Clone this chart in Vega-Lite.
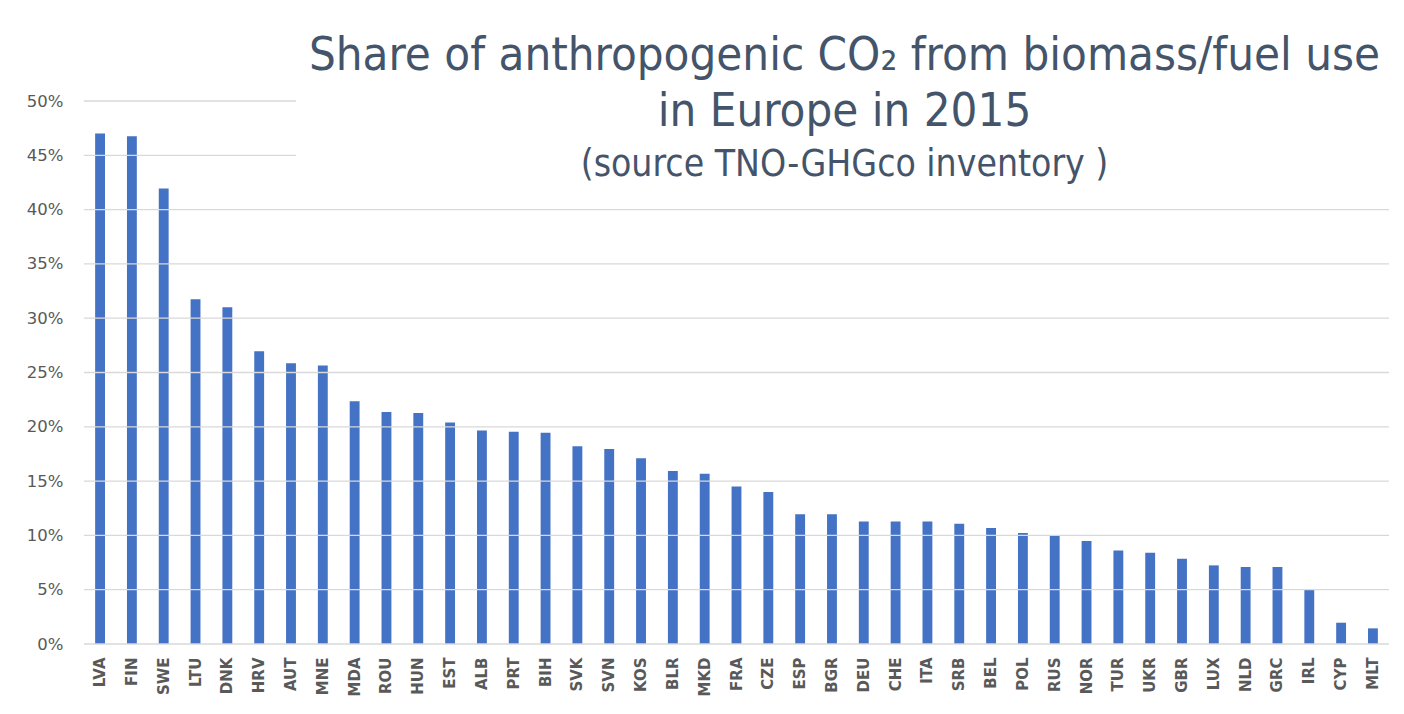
{
  "$schema": "https://vega.github.io/schema/vega-lite/v6.json",
  "width": 1305,
  "height": 543,
  "autosize": {"type": "none"},
  "padding": {"left": 84, "top": 101, "right": 15, "bottom": 70},
  "background": "white",
  "config": {"view": {"stroke": null}},
  "title": {
    "text": ["Share of anthropogenic CO₂ from biomass/fuel use", "in Europe in 2015"],
    "subtitle": "(source TNO-GHGco inventory )",
    "anchor": "middle",
    "dx": 108,
    "offset": -91,
    "font": "DejaVu Sans Condensed",
    "fontSize": 47,
    "fontWeight": "normal",
    "lineHeight": 56,
    "color": "#44546A",
    "subtitleFont": "DejaVu Sans Condensed",
    "subtitleFontSize": 37,
    "subtitleColor": "#44546A",
    "subtitlePadding": 11,
    "subtitleLineHeight": 40
  },
  "datasets": {
    "bars": [
      {"country": "LVA", "share": 0.470},
      {"country": "FIN", "share": 0.4675},
      {"country": "SWE", "share": 0.4195},
      {"country": "LTU", "share": 0.3175},
      {"country": "DNK", "share": 0.310},
      {"country": "HRV", "share": 0.2695},
      {"country": "AUT", "share": 0.2585},
      {"country": "MNE", "share": 0.2565},
      {"country": "MDA", "share": 0.2235},
      {"country": "ROU", "share": 0.2137},
      {"country": "HUN", "share": 0.2127},
      {"country": "EST", "share": 0.204},
      {"country": "ALB", "share": 0.1967},
      {"country": "PRT", "share": 0.1955},
      {"country": "BIH", "share": 0.1945},
      {"country": "SVK", "share": 0.1822},
      {"country": "SVN", "share": 0.1795},
      {"country": "KOS", "share": 0.171},
      {"country": "BLR", "share": 0.1592},
      {"country": "MKD", "share": 0.1567},
      {"country": "FRA", "share": 0.1451},
      {"country": "CZE", "share": 0.1399},
      {"country": "ESP", "share": 0.1194},
      {"country": "BGR", "share": 0.1194},
      {"country": "DEU", "share": 0.1129},
      {"country": "CHE", "share": 0.1129},
      {"country": "ITA", "share": 0.1129},
      {"country": "SRB", "share": 0.1107},
      {"country": "BEL", "share": 0.1068},
      {"country": "POL", "share": 0.1022},
      {"country": "RUS", "share": 0.0994},
      {"country": "NOR", "share": 0.0948},
      {"country": "TUR", "share": 0.0862},
      {"country": "UKR", "share": 0.0840},
      {"country": "GBR", "share": 0.0785},
      {"country": "LUX", "share": 0.0724},
      {"country": "NLD", "share": 0.0709},
      {"country": "GRC", "share": 0.0709},
      {"country": "IRL", "share": 0.0497},
      {"country": "CYP", "share": 0.0196},
      {"country": "MLT", "share": 0.0144}
    ],
    "gridFull": [
      {"v": 0}, {"v": 0.05}, {"v": 0.10}, {"v": 0.15}, {"v": 0.20},
      {"v": 0.25}, {"v": 0.30}, {"v": 0.35}, {"v": 0.40}
    ],
    "gridShort": [{"v": 0.45}, {"v": 0.50}]
  },
  "layer": [
    {
      "data": {"name": "bars"},
      "mark": {"type": "bar", "color": "#4472C4"},
      "encoding": {
        "x": {
          "field": "country",
          "type": "nominal",
          "sort": null,
          "scale": {
            "domain": ["LVA","FIN","SWE","LTU","DNK","HRV","AUT","MNE","MDA","ROU","HUN","EST","ALB","PRT","BIH","SVK","SVN","KOS","BLR","MKD","FRA","CZE","ESP","BGR","DEU","CHE","ITA","SRB","BEL","POL","RUS","NOR","TUR","UKR","GBR","LUX","NLD","GRC","IRL","CYP","MLT"],
            "paddingInner": 0.69,
            "paddingOuter": 0.35
          },
          "axis": {
            "title": null,
            "domain": false,
            "ticks": false,
            "labelAngle": -90,
            "labelPadding": 13,
            "labelFont": "DejaVu Sans",
            "labelFontSize": 15,
            "labelFontWeight": "bold",
            "labelColor": "#595959"
          }
        },
        "y": {
          "field": "share",
          "type": "quantitative",
          "scale": {"domain": [0, 0.5]},
          "axis": {
            "title": null,
            "domain": false,
            "ticks": false,
            "grid": false,
            "values": [0, 0.05, 0.1, 0.15, 0.2, 0.25, 0.3, 0.35, 0.4, 0.45, 0.5],
            "format": ".0%",
            "labelPadding": 21,
            "labelFont": "DejaVu Sans",
            "labelFontSize": 16.5,
            "labelColor": "#595959"
          }
        }
      }
    },
    {
      "data": {"name": "gridFull"},
      "mark": {"type": "rule", "color": "#D9D9D9", "strokeWidth": 1.3},
      "encoding": {
        "y": {"field": "v", "type": "quantitative"}
      }
    },
    {
      "data": {"name": "gridShort"},
      "mark": {"type": "rule", "color": "#D9D9D9", "strokeWidth": 1.3},
      "encoding": {
        "y": {"field": "v", "type": "quantitative"},
        "x": {"datum": "LVA", "type": "nominal", "bandPosition": -1.15},
        "x2": {"datum": "AUT", "bandPosition": 1}
      }
    }
  ]
}
